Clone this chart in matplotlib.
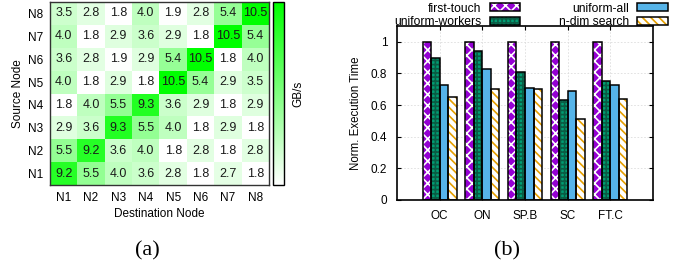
import matplotlib
matplotlib.use('Agg')
import matplotlib.pyplot as plt
import numpy as np
from matplotlib.colors import LinearSegmentedColormap
from matplotlib.patches import Patch

plt.rcParams['font.family'] = ['Liberation Sans', 'DejaVu Sans']
plt.rcParams['hatch.linewidth'] = 1.2

# heatmap data, rows N1..N8 (source), cols N1..N8 (destination)
nodes = ['N1', 'N2', 'N3', 'N4', 'N5', 'N6', 'N7', 'N8']
bw = np.array([
    [9.2, 5.5, 4.0, 3.6, 2.8, 1.8, 2.7, 1.8],
    [5.5, 9.2, 3.6, 4.0, 1.8, 2.8, 1.8, 2.8],
    [2.9, 3.6, 9.3, 5.5, 4.0, 1.8, 2.9, 1.8],
    [1.8, 4.0, 5.5, 9.3, 3.6, 2.9, 1.8, 2.9],
    [4.0, 1.8, 2.9, 1.8, 10.5, 5.4, 2.9, 3.5],
    [3.6, 2.8, 1.9, 2.9, 5.4, 10.5, 1.8, 4.0],
    [4.0, 1.8, 2.9, 3.6, 2.9, 1.8, 10.5, 5.4],
    [3.5, 2.8, 1.8, 4.0, 1.9, 2.8, 5.4, 10.5],
])

# bar chart data
benchmarks = ['OC', 'ON', 'SP.B', 'SC', 'FT.C']
first_touch = [1.0, 1.0, 1.0, 1.0, 1.0]
uniform_workers = [0.90, 0.94, 0.81, 0.63, 0.75]
uniform_all = [0.73, 0.83, 0.71, 0.69, 0.73]
ndim_search = [0.65, 0.70, 0.70, 0.51, 0.64]

W, H = 678, 268
fig = plt.figure(figsize=(W / 100, H / 100), dpi=100)


def px(l, t, r, b):
    return [l / W, 1 - b / H, (r - l) / W, (b - t) / H]


# ---- (a) heatmap
ax_h = fig.add_axes(px(50, 2, 269, 185))
cmap = LinearSegmentedColormap.from_list('wg', ['#ffffff', '#00ff00'])
im = ax_h.imshow(bw, cmap=cmap, origin='lower', aspect='auto',
                 vmin=1.8, vmax=10.5)
for i in range(len(nodes)):
    for j in range(len(nodes)):
        ax_h.text(j, i, f'{bw[i, j]:.1f}', ha='center', va='center',
                  fontsize=9, color='#1a1a1a')
ax_h.set_xticks(range(len(nodes)))
ax_h.set_xticklabels(nodes)
ax_h.set_yticks(range(len(nodes)))
ax_h.set_yticklabels(nodes)
ax_h.tick_params(length=0, labelsize=8.5, pad=5)
ax_h.set_xlabel('Destination Node', fontsize=8.5, labelpad=3)
ax_h.set_ylabel('Source Node', fontsize=8.5, labelpad=3)
for s in ax_h.spines.values():
    s.set_color('#333333')
    s.set_linewidth(1.0)

cax = fig.add_axes(px(273, 2, 284, 185))
cb = fig.colorbar(im, cax=cax)
cb.set_ticks([])
cb.outline.set_linewidth(1.0)
cb.set_label('GB/s', fontsize=8.5, labelpad=6)

# ---- (b) bars
ax_b = fig.add_axes(px(397, 26, 653, 200))
x = np.arange(1, len(benchmarks) + 1)
w = 0.2
series = [
    ('first-touch', first_touch, '#9400d3', '#ffffff', 'xxx'),
    ('uniform-workers', uniform_workers, '#009e73', '#0a5c44', '++++'),
    ('uniform-all', uniform_all, '#56b4e9', None, None),
    ('n-dim search', ndim_search, '#ffffff', '#e69f00', '\\\\\\\\'),
]
handles = []
for k, (name, vals, fc, hc, hatch) in enumerate(series):
    xs = x + (k - 1.5) * w
    if hatch:
        ax_b.bar(xs, vals, w, color=fc, edgecolor=hc, hatch=hatch,
                 linewidth=0, zorder=2)
        h1 = Patch(facecolor=fc, edgecolor=hc, hatch=hatch, linewidth=0)
    else:
        ax_b.bar(xs, vals, w, color=fc, linewidth=0, zorder=2)
        h1 = Patch(facecolor=fc, linewidth=0)
    ax_b.bar(xs, vals, w, fill=False, edgecolor='black', linewidth=1.1,
             zorder=3)
    h2 = Patch(fill=False, edgecolor='black', linewidth=1.1)
    handles.append((h1, h2))

ax_b.set_xlim(0, 6)
ax_b.set_ylim(0, 1.1)
ax_b.set_xticks(x)
ax_b.set_xticklabels(benchmarks)
ax_b.set_yticks([0, 0.2, 0.4, 0.6, 0.8, 1])
ax_b.set_yticklabels(['0', '0.2', '0.4', '0.6', '0.8', '1'])
ax_b.tick_params(direction='in', top=True, right=True, labelsize=8.5,
                 length=3, pad=7)
ax_b.grid(True, color='#dddddd', ls=(0, (2, 2)), lw=0.6, zorder=0)
ax_b.set_ylabel('Norm. Execution Time', fontsize=8.3, labelpad=6)
for s in ax_b.spines.values():
    s.set_linewidth(1.2)

fig.legend(handles, [s[0] for s in series], ncol=2, markerfirst=False,
           loc='upper center', bbox_to_anchor=(531 / W, 1 + 3.5 / H),
           frameon=False, fontsize=8.7, handlelength=2.5, handleheight=0.6,
           handletextpad=0.7, columnspacing=3.2, labelspacing=0.12,
           borderpad=0)

# captions
fig.text(147 / W, 1 - 251 / H, '(a)', ha='center', va='center',
         fontsize=16, family='Liberation Serif')
fig.text(507 / W, 1 - 251 / H, '(b)', ha='center', va='center',
         fontsize=16, family='Liberation Serif')

fig.savefig('out.png', dpi=100)
